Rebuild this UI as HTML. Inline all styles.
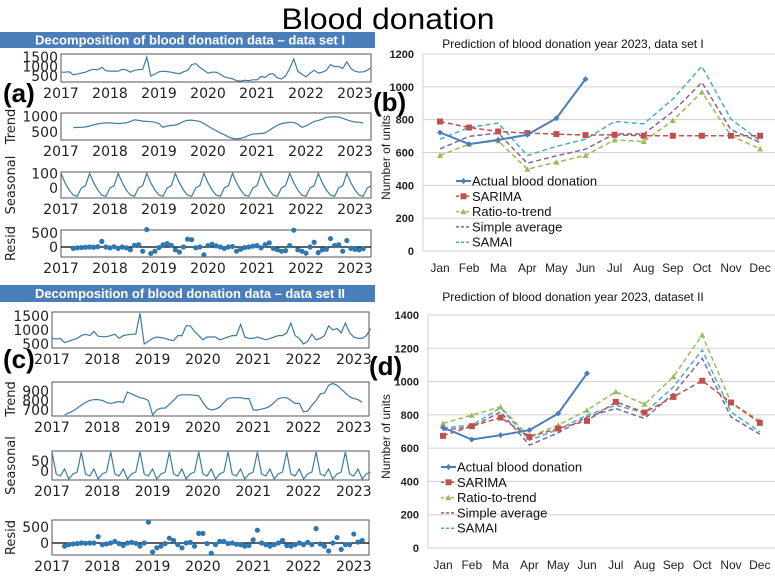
<!DOCTYPE html>
<html><head><meta charset="utf-8"><style>
html,body{margin:0;padding:0;background:#fff;}
svg{display:block;}
.dj{font-family:"DejaVu Sans","Liberation Sans",sans-serif;}
.ls{font-family:"Liberation Sans",sans-serif;}
</style></head><body>
<svg id="fig" width="775" height="581" viewBox="0 0 775 581" xmlns="http://www.w3.org/2000/svg">
<text x="388" y="29" text-anchor="middle" class="ls" font-size="30" textLength="213" lengthAdjust="spacingAndGlyphs">Blood donation</text>
<rect x="0" y="32" width="375" height="16" fill="#4a7ebb"/>
<text x="190" y="44.5" text-anchor="middle" class="ls" font-size="13" font-weight="bold" fill="#fff" textLength="310" lengthAdjust="spacingAndGlyphs">Decomposition of  blood donation data – data set I</text>
<rect x="0" y="285" width="375" height="17" fill="#4a7ebb"/>
<text x="190" y="298" text-anchor="middle" class="ls" font-size="13" font-weight="bold" fill="#fff" textLength="310" lengthAdjust="spacingAndGlyphs">Decomposition of  blood donation data – data set II</text>
<text x="3" y="102" class="ls" font-size="26" font-weight="bold">(a)</text>
<text x="3" y="368" class="ls" font-size="26" font-weight="bold">(c)</text>
<text x="373" y="111" class="ls" font-size="26" font-weight="bold">(b)</text>
<text x="369" y="375" class="ls" font-size="26" font-weight="bold">(d)</text>
<g id="left"></g>
<g id="right"></g>
</svg>
<script>
// ---------- Data: decomposition data set I ----------
const obsA = [700,700,720,560,600,650,700,800,850,820,950,780,
 760,760,750,850,820,700,800,830,850,1500,500,600,
 720,750,730,700,650,620,720,800,1100,1150,950,800,
 650,700,700,600,450,400,350,250,230,280,250,300,
 300,480,420,600,620,400,340,500,900,1400,750,600,
 450,650,800,650,700,800,1100,1000,1000,900,1250,900,
 750,700,720,800,950];
const trendA = [null,null,null,650,655,660,670,700,740,770,790,800,
 800,790,780,790,800,850,900,880,860,850,840,820,
 780,660,700,720,730,780,850,880,890,870,850,780,
 700,620,550,480,420,350,300,290,300,340,400,440,
 450,460,480,560,650,720,780,800,820,820,760,660,
 700,780,850,880,920,980,990,1000,990,950,900,860,
 830,820,800,null,null];
const seasA = [100,35,-15,-50,-58,0,15,100,35,-15,-50,-58,0,15,100,35,-15,-50,-58,0,15,100,35,-15,-50,-58,0,15,
 100,35,-15,-50,-58,0,15,100,35,-15,-50,-58,0,15,100,35,-15,-50,-58,0,15,100,35,-15,-50,-58,0,15,
 100,35,-15,-50,-58,0,15,100,35,-15,-50,-58,0,15,100,35,-15,-50,-58,0,15];
const residA = [null,null,null,-50,-30,-20,-10,0,-10,10,200,0,-30,10,-50,
 0,-30,-100,60,80,-150,620,-230,-150,-20,80,120,
 60,-100,-180,0,280,260,-30,0,-280,50,100,40,
 0,-50,0,20,-150,-80,-20,0,30,50,-30,80,
 150,-50,-100,-150,-130,50,600,-100,-150,-220,0,170,
 -200,-100,-80,300,50,80,-150,230,-50,-80,-100,-60,null,null];
// ---------- Data: decomposition data set II ----------
const obsC = [700,680,700,550,600,650,700,800,850,800,950,780,
 760,760,800,850,700,800,830,850,850,1600,500,600,
 700,750,730,700,650,620,800,800,1150,1150,950,800,
 650,750,750,750,650,700,750,800,800,1200,750,700,
 700,750,700,650,700,750,800,800,900,1250,800,700,
 500,600,850,650,700,800,1150,1000,1050,900,1250,900,
 750,700,700,800,1050];
const trendC = [null,null,null,650,670,690,720,750,780,800,810,810,
 800,780,770,780,790,780,890,870,850,830,820,800,
 650,700,720,720,760,800,850,860,860,860,855,850,
 780,720,700,710,730,780,820,830,830,830,820,820,
 700,700,710,720,740,780,820,830,830,800,770,770,
 680,690,750,800,870,880,960,980,960,920,880,840,
 820,810,780,null,null];
const seasC = [95,-15,-25,10,-40,-15,-5,95,-15,-25,10,-40,-15,-5,95,-15,-25,10,-40,-15,-5,95,-15,-25,10,-40,-15,-5,
 95,-15,-25,10,-40,-15,-5,95,-15,-25,10,-40,-15,-5,95,-15,-25,10,-40,-15,-5,95,-15,-25,10,-40,-15,-5,
 95,-15,-25,10,-40,-15,-5,95,-15,-25,10,-40,-15,-5,95,-15,-25,10,-40,-15,-5];
const residC = [null,null,null,-100,-50,-30,-20,0,-10,0,0,200,-50,-30,0,
 50,-20,-80,0,20,-10,-100,0,650,-280,-150,-100,
 -20,150,80,-50,-150,0,20,-100,300,300,-20,-320,
 -50,50,50,-20,0,-40,-50,-100,-80,100,400,0,
 -50,-100,-50,0,80,-80,-100,-50,0,-50,20,-50,
 450,-30,-100,-250,0,170,-200,-50,-50,280,30,80,null,null];
const yearTicks = [2017,2018,2019,2020,2021,2022,2023];
// ---------- Data: predictions ----------
const months = ["Jan","Feb","Ma","Apr","May","Jun","Jul","Aug","Sep","Oct","Nov","Dec"];
const seriesNames = ["Actual blood donation","SARIMA","Ratio-to-trend","Simple average","SAMAI"];
const actualB = [722,651,677,708,809,1047];
const sarimaB = [789,752,728,718,712,706,708,702,702,702,702,702];
const ratioB = [582,651,671,498,541,582,677,667,795,968,702,622];
const simpleB = [622,698,718,535,580,620,714,712,850,1027,738,661];
const samaiB = [681,752,779,582,637,681,789,775,925,1125,803,671];
const actualD = [724,652,678,708,808,1049];
const sarimaD = [674,732,784,668,718,764,878,814,908,1005,874,752];
const ratioD = [748,798,848,668,738,828,939,864,1029,1280,874,764];
const simpleD = [708,728,818,618,692,788,838,778,928,1139,788,684];
const samaiD = [722,738,842,648,712,798,858,812,968,1190,818,698];
const ticksB = [0,200,400,600,800,1000,1200];
const ticksD = [0,200,400,600,800,1000,1200,1400];

const NS="http://www.w3.org/2000/svg";
function mk(tag, attrs, parent){const e=document.createElementNS(NS,tag);for(const k in attrs)e.setAttribute(k,attrs[k]);parent.appendChild(e);return e;}
const left=document.getElementById('left');
const right=document.getElementById('right');
const LC="#3b7ca6";

function subplot(cfg){
  const g=mk('g',{},left);
  
  
  const xs=t=>cfg.x0+(t-2017)*cfg.ppy;
  const ys=v=>cfg.y1-(v-cfg.d0)/(cfg.d1-cfg.d0)*(cfg.y1-cfg.y0);
  const fr=mk('rect',{x:cfg.x0,y:cfg.y0,width:cfg.xr-cfg.x0,height:cfg.y1-cfg.y0,fill:'none',stroke:'#555','stroke-width':1},g);
  
  
  if(cfg.zero){const z=mk('line',{x1:cfg.x0,x2:cfg.xr,y1:ys(0),y2:ys(0),stroke:'#000','stroke-width':1.2},g);
    
    }
  const data=cfg.data;
  if(cfg.scatter){
    data.forEach((v,i)=>{ if(v===null)return;
      const c=mk('circle',{cx:xs(2017+i/12),cy:ys(v),r:2.6,fill:'#2e78b0'},g);
      
      
    });
  } else {
    let d='';let pen=false;
    data.forEach((v,i)=>{ if(v===null){pen=false;return;} d+=(pen?'L':'M')+xs(2017+i/12).toFixed(1)+','+ys(v).toFixed(1);pen=true;});
    const p=mk('path',{d:d,fill:'none',stroke:LC,'stroke-width':1.2},g);
    
    
  }
  cfg.yticks.forEach(v=>{
    const t=mk('text',{x:cfg.x0-3,y:ys(v)+5,'text-anchor':'end','font-size':14,class:'dj',fill:'#222'},g);
    t.textContent=v;
    
    
  });
  yearTicks.forEach(yr=>{
    const t=mk('text',{x:xs(yr),y:cfg.y1+16,'text-anchor':'middle','font-size':14,class:'dj',fill:'#222'},g);
    t.textContent=yr;
    
    
  });
  if(cfg.label){
    const cy=(cfg.y0+cfg.y1)/2;
    const t=mk('text',{x:0,y:0,transform:`translate(15,${cy}) rotate(-90)`,'text-anchor':'middle','font-size':13,class:'dj',fill:'#222'},g);
    t.textContent=cfg.label;
    
    
  }
}
subplot({name:'observed-a',x0:61,xr:371,ppy:49,y0:54,y1:82,d0:184,d1:1658,data:obsA,yticks:[500,1000,1500]});
subplot({name:'trend-a',x0:61,xr:371,ppy:49,y0:113,y1:140,d0:250,d1:1120,data:trendA,yticks:[500,1000],label:'Trend'});
subplot({name:'seasonal-a',x0:61,xr:371,ppy:49,y0:172,y1:198,d0:-70,d1:110,data:seasA,yticks:[0,100],label:'Seasonal'});
subplot({name:'resid-a',x0:61,xr:371,ppy:49,y0:230,y1:257,d0:-357,d1:607,data:residA,yticks:[0,500],label:'Resid',scatter:true,zero:true});
subplot({name:'observed-c',x0:52,xr:369,ppy:50.3,y0:312,y1:348,d0:357,d1:1643,data:obsC,yticks:[500,1000,1500]});
subplot({name:'trend-c',x0:52,xr:369,ppy:50.3,y0:382,y1:416,d0:637,d1:995,data:trendC,yticks:[700,800,900],label:'Trend'});
subplot({name:'seasonal-c',x0:52,xr:369,ppy:50.3,y0:451,y1:480,d0:-45,d1:100,data:seasC,yticks:[0,50],label:'Seasonal'});
subplot({name:'resid-c',x0:52,xr:369,ppy:50.3,y0:520,y1:555,d0:-375,d1:719,data:residC,yticks:[0,500],label:'Resid',scatter:true,zero:true});

const styles=[
 {c:'#4a7ebb',dash:'',w:2,m:'diamond'},
 {c:'#c0504d',dash:'5,3',w:1.5,m:'square'},
 {c:'#9bbb59',dash:'5,3',w:1.5,m:'tri'},
 {c:'#8064a2',dash:'5,3',w:1.5,m:'none'},
 {c:'#4bacc6',dash:'5,3',w:1.5,m:'none'}];
function marker(g,type,x,y,c){
  let e;
  if(type==='diamond') e=mk('path',{d:`M${x},${y-3}L${x+3},${y}L${x},${y+3}L${x-3},${y}Z`,fill:c},g);
  else if(type==='square') e=mk('rect',{x:x-3,y:y-3,width:6,height:6,fill:c},g);
  else if(type==='tri') e=mk('path',{d:`M${x},${y-3}L${x+3},${y+2.5}L${x-3},${y+2.5}Z`,fill:c},g);
  else return;
  
  
}
function predChart(cfg){
  const g=mk('g',{},right);
  
  
  const ymax=cfg.ticks[cfg.ticks.length-1];
  const xs=i=>cfg.xJan+i*cfg.step;
  const ys=v=>cfg.yb-v/ymax*(cfg.yb-cfg.yt);
  const tt=mk('text',{x:cfg.tx,y:cfg.ty,'text-anchor':'middle','font-size':12,class:'ls',fill:'#111'},g);
  tt.textContent=cfg.title;
  
  
  cfg.ticks.forEach(v=>{
    const l=mk('line',{x1:cfg.gx,x2:775,y1:ys(v),y2:ys(v),stroke:'#d0d0d0','stroke-width':1},g);
    
    
    const t=mk('text',{x:cfg.gx-9,y:ys(v)+4,'text-anchor':'end','font-size':11,'font-weight':'600',class:'ls',fill:'#222'},g);
    t.textContent=v;
    
    
  });
  const ax=mk('line',{x1:cfg.gx,x2:cfg.gx,y1:cfg.yt,y2:cfg.yb,stroke:'#d0d0d0'},g);
  
  
  months.forEach((m,i)=>{
    const t=mk('text',{x:xs(i),y:cfg.yb+21,'text-anchor':'middle','font-size':12,class:'ls',fill:'#222'},g);
    t.textContent=m;
    
    
  });
  const yt=mk('text',{x:0,y:0,transform:`translate(390,${(cfg.yt+cfg.yb)/2+5}) rotate(-90)`,'text-anchor':'middle','font-size':12,class:'ls',fill:'#222'},g);
  yt.textContent='Number of units';
  
  
  [4,3,2,1,0].forEach(si=>{
    const arr=cfg.series[si];const s=styles[si];
    const d=arr.map((v,i)=>(i?'L':'M')+xs(i).toFixed(1)+','+ys(v).toFixed(1)).join('');
    const p=mk('path',{d:d,fill:'none',stroke:s.c,'stroke-width':s.w},g);
    if(s.dash)p.setAttribute('stroke-dasharray',s.dash);
    
    
    arr.forEach((v,i)=>marker(g,s.m,xs(i),ys(v),s.c));
  });
  seriesNames.forEach((n,si)=>{
    const s=styles[si];const y=cfg.ly+si*15.3;
    const lg=mk('g',{},g);
    
    
    const l=mk('line',{x1:cfg.lx,x2:cfg.lx+15,y1:y,y2:y,stroke:s.c,'stroke-width':s.w},lg);
    if(s.dash)l.setAttribute('stroke-dasharray','3,2');
    marker(lg,s.m,cfg.lx+7.5,y,s.c);
    const t=mk('text',{x:cfg.lx+16,y:y+4.5,'font-size':13,class:'ls',fill:'#111'},lg);
    t.textContent=n;
  });
}
predChart({name:'prediction-chart-b',title:'Prediction of blood donation year 2023, data set I',tx:573,ty:48,
  xJan:440,step:29.1,yt:54,yb:251,gx:423,ticks:ticksB,ly:181,lx:456,
  series:[actualB,sarimaB,ratioB,simpleB,samaiB]});
predChart({name:'prediction-chart-d',title:'Prediction of blood donation year 2023, dataset II',tx:573,ty:301,
  xJan:443,step:28.8,yt:315,yb:548,gx:428,ticks:ticksD,ly:467,lx:441,
  series:[actualD,sarimaD,ratioD,simpleD,samaiD]});
</script>
</body></html>
